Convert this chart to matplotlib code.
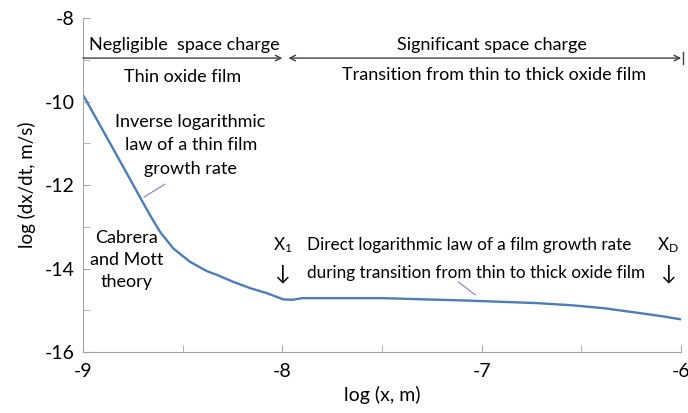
import matplotlib
matplotlib.use("Agg")
import matplotlib.pyplot as plt
from matplotlib.ticker import MultipleLocator

# curve
log_x = [-9.0, -8.85, -8.706, -8.664, -8.614, -8.547, -8.463, -8.38, -8.33, -8.246,
         -8.162, -8.078, -7.995, -7.95, -7.90, -7.5, -7.06, -6.72, -6.55, -6.39,
         -6.22, -6.1, -6.0]
log_rate = [-9.84, -11.12, -12.36, -12.72, -13.12, -13.52, -13.84, -14.06, -14.15, -14.32,
            -14.47, -14.59, -14.74, -14.75, -14.71, -14.71, -14.77, -14.83, -14.88, -14.95,
            -15.06, -15.14, -15.22]

x_ticks = [-9, -8, -7, -6]
y_ticks = [-16, -14, -12, -10, -8]

plt.rcParams['font.family'] = ['Lato', 'DejaVu Sans']
plt.rcParams['mathtext.fontset'] = 'custom'
plt.rcParams['mathtext.rm'] = 'Lato'
plt.rcParams['mathtext.it'] = 'Lato'
plt.rcParams['axes.unicode_minus'] = False

fig = plt.figure(figsize=(6.88, 4.13), dpi=100)
ax = fig.add_axes([0.1206, 0.1477, 0.8695, 0.8087])

ax.plot(log_x, log_rate, color="#4a7ebb", linewidth=1.7)

ax.set_xlim(-9, -6)
ax.set_ylim(-16, -8)
ax.set_xticks(x_ticks)
ax.set_yticks(y_ticks)
ax.xaxis.set_minor_locator(MultipleLocator(0.5))
ax.yaxis.set_minor_locator(MultipleLocator(1))
ax.tick_params(which="both", direction="in", length=5, color="#a6a6a6", labelsize=14)
ax.tick_params(axis="x", pad=8)
ax.tick_params(axis="y", pad=6)
for s in ["top", "right"]:
    ax.spines[s].set_visible(False)
for s in ["left", "bottom"]:
    ax.spines[s].set_color("#a6a6a6")

ax.set_xlabel("log (x, m)", fontsize=14, labelpad=4)
ax.set_ylabel("log (dx/dt, m/s)", fontsize=13.5, labelpad=6)

# top regime arrows
line_kw = dict(color="#404040", lw=1.0, shrinkA=0, shrinkB=0)
ax.annotate("", xy=(-8.0, -8.96), xytext=(-9.0, -8.96),
            arrowprops=dict(arrowstyle="->", **line_kw))
ax.annotate("", xy=(-6.0, -8.96), xytext=(-7.97, -8.96),
            arrowprops=dict(arrowstyle="<->", **line_kw))
ax.plot([-5.99, -5.99], [-8.82, -9.1], color="#404040", lw=1.0, clip_on=False)

fs = 13
ax.text(-8.49, -8.65, "Negligible  space charge", ha="center", va="center", fontsize=fs)
ax.text(-8.50, -9.41, "Thin oxide film", ha="center", va="center", fontsize=fs)
ax.text(-6.95, -8.65, "Significant space charge", ha="center", va="center", fontsize=fs)
ax.text(-6.94, -9.37, "Transition from thin to thick oxide film", ha="center", va="center", fontsize=fs)

ax.text(-8.46, -11.05, "Inverse logarithmic\nlaw of a thin film\ngrowth rate",
        ha="center", va="center", fontsize=fs, linespacing=1.6)
ax.plot([-8.694, -8.589], [-12.29, -11.98], color="#7b7be0", lw=0.8)

ax.text(-8.78, -13.8, "Cabrera\nand Mott\ntheory", ha="center", va="center",
        fontsize=fs, linespacing=1.45)

fs2 = 12.3
ax.text(-8.0, -13.44, "X$_1$", ha="center", va="center", fontsize=fs2)
ax.text(-8.0, -14.11, "\u2193", ha="center", va="center", fontsize=15)
ax.text(-7.876, -13.44, "Direct logarithmic law of a film growth rate",
        ha="left", va="center", fontsize=fs2)
ax.text(-7.876, -14.11, "during transition from thin to thick oxide film",
        ha="left", va="center", fontsize=fs2)
ax.text(-6.065, -13.44, "X$_\\mathrm{D}$", ha="center", va="center", fontsize=fs2)
ax.text(-6.065, -14.11, "\u2193", ha="center", va="center", fontsize=15)
ax.plot([-7.118, -7.033], [-14.32, -14.63], color="#7b7be0", lw=0.8)

fig.savefig("out.png", dpi=100)
